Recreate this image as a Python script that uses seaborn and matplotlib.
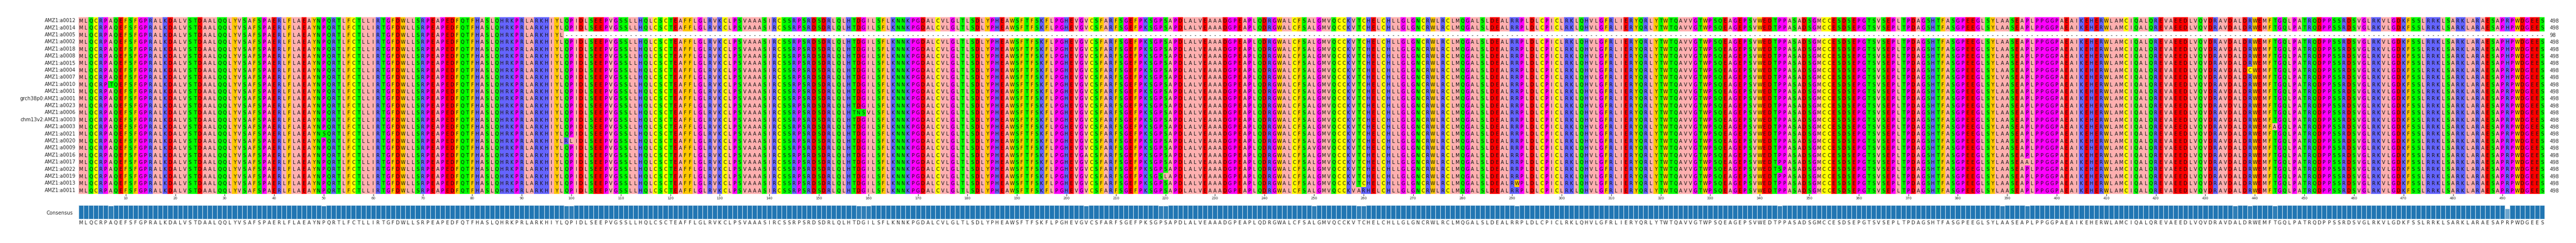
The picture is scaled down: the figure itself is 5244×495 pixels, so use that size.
import numpy as np
import pandas as pd
import matplotlib
matplotlib.use("Agg")
import matplotlib.pyplot as plt
import matplotlib.colors as mcolors
import seaborn as sns

names = ["AMZ1:a0012", "AMZ1:a0014", "AMZ1:a0005", "AMZ1:a0002", "AMZ1:a0018",
         "AMZ1:a0008", "AMZ1:a0015", "AMZ1:a0004", "AMZ1:a0007", "AMZ1:a0010",
         "AMZ1:a0001", "grch38p0:AMZ1:a0001", "AMZ1:a0023", "AMZ1:a0006",
         "chm13v2:AMZ1:a0003", "AMZ1:a0003", "AMZ1:a0021", "AMZ1:a0020",
         "AMZ1:a0009", "AMZ1:a0016", "AMZ1:a0017", "AMZ1:a0022", "AMZ1:a0019",
         "AMZ1:a0013", "AMZ1:a0011"]

consensus = ("MLQCRPAQEFSFGPRALKDALVSTDAALQQLYVSAFSPAERLFLAEAYNP"
             "QRTLFCTLLIRTGFDWLLSRPEAPEDFQTFHASLQHRKPRLARKHIYLQP"
             "IDLSEEPVGSSLLHQLCSCTEAFFLGLRVKCLPSVAAASIRCSSRPSRDS"
             "DRLQLHTDGILSFLKNNKPGDALCVLGLTLSDLYPHEAWSFTFSKFLPGH"
             "EVGVCSFARFSGEFPKSGPSAPDLALVEAAADGPEAPLQDRGWALCFSAL"
             "GMVQCCKVTCHELCHLLGLGNCRWLRCLMQGALSLDEALRRPLDLCPICL"
             "RKLQHVLGFRLIERYQRLYTWTQAVVGTWPSQEAGEPSVWEDTPPASADS"
             "GMCCESDSEPGTSVSEPLTPDAGSHTFASGPEEGLSYLAASEAPLPPGGP"
             "AEAIKEHERWLAMCIQALQREVAEEDLVQVDRAVDALDRWEMFTGQLPAT"
             "RQDPPSSRDSVGLRKVLGDKFSSLRRKLSARKLARAESAPRPWDGEES")

short_name = "AMZ1:a0005"
short_len = 98

# (position, sequence, residue)
variants = [(7, "AMZ1:a0010", "T"), (50, "AMZ1:a0021", "S"),
            (99, "AMZ1:a0020", "R"), (100, "AMZ1:a0020", "L"),
            (158, "AMZ1:a0006", "N"), (159, "AMZ1:a0006", "S"), (160, "AMZ1:a0006", "V"),
            (204, "AMZ1:a0016", "A"), (219, "AMZ1:a0019", "S"), (220, "AMZ1:a0019", "L"),
            (250, "AMZ1:a0009", "V"), (259, "AMZ1:a0011", "A"), (260, "AMZ1:a0011", "R"),
            (291, "AMZ1:a0013", "W"), (344, "AMZ1:a0022", "S"), (389, "AMZ1:a0007", "V"),
            (394, "AMZ1:a0017", "A"), (436, "AMZ1:a0023", "V"), (439, "AMZ1:a0004", "C"),
            (444, "AMZ1:a0003", "A")]
h_rows_491 = ["AMZ1:a0014", "AMZ1:a0002", "AMZ1:a0018", "AMZ1:a0008",
              "AMZ1:a0015", "AMZ1:a0007"]

# build sequences
seqs = {}
for n in names:
    s = list(consensus)
    if n == short_name:
        s = s[:short_len] + ["-"] * (len(consensus) - short_len)
    seqs[n] = s
for pos, n, r in variants:
    seqs[n][pos - 1] = r
for n in h_rows_491:
    seqs[n][490] = "H"

groups = {**{c: 0 for c in "ILVAM"}, **{c: 1 for c in "FWY"}, **{c: 2 for c in "KRH"},
          **{c: 3 for c in "DE"}, **{c: 4 for c in "STNQ"}, **{c: 5 for c in "PG"},
          "C": 6, "-": 7}
palette = ["#ffafaf", "#ffc800", "#6464ff", "#ff0000", "#00ff00", "#ff00ff", "#ffff00", "#ffffff"]

L = len(consensus)
mat = np.array([[groups[c] for c in seqs[n]] for n in names])
df = pd.DataFrame(mat, index=names, columns=range(1, L + 1))

# conservation
cons_vals = []
for j in range(L):
    col = [seqs[n][j] for n in names if seqs[n][j] != "-"]
    cons_vals.append(sum(1 for c in col if c == consensus[j]) / len(col))

W, H = 5244, 495
fig = plt.figure(figsize=(W / 100, H / 100), dpi=100)
ax = fig.add_axes([160 / W, 1 - 395 / H, 5020 / W, 360 / H])
sns.heatmap(df, ax=ax, cmap=mcolors.ListedColormap(palette), vmin=-0.5, vmax=7.5,
            cbar=False, linewidths=0, xticklabels=False, yticklabels=True)
for i, n in enumerate(names):
    for j, c in enumerate(seqs[n]):
        ax.text(j + 0.5, i + 0.55, c, ha="center", va="center", fontsize=7, color="#111111")
    ln = sum(1 for c in seqs[n] if c != "-")
    ax.text(L + 1.0, i + 0.55, str(ln), ha="left", va="center", fontsize=7.2, color="#262626")
ax.set_yticklabels(names, rotation=0, fontsize=7.2, color="#262626")
ax.tick_params(axis="y", length=0, pad=4)
ticks = list(range(10, L + 1, 10))
ax.set_xticks([t - 0.5 for t in ticks])
ax.set_xticklabels([str(t) for t in ticks], fontsize=5, color="#262626")
ax.tick_params(axis="x", length=3, width=0.6, pad=1, bottom=True)
ax.set_xlabel("")
ax.set_ylabel("")

# consensus bars
bx = fig.add_axes([160 / W, 1 - 446 / H, 5020 / W, 28 / H])
base = np.array(mcolors.to_rgb("#2176b3"))
cols = [tuple(base + (1 - base) * min(1, (1 - v) * 1.4)) for v in cons_vals]
bdf = pd.DataFrame({"pos": [str(p) for p in range(1, L + 1)], "val": cons_vals})
sns.barplot(data=bdf, x="pos", y="val", hue="pos", palette=cols, legend=False,
            width=1.0, ax=bx, edgecolor="#d6e6f2", linewidth=0.8, saturation=1)
bx.set_xlim(-0.5, L - 0.5)
bx.set_ylim(0, 1)
bx.axis("off")
for j, c in enumerate(consensus):
    bx.text(j, -0.28, c, ha="center", va="center", fontsize=7, color="#262626",
            transform=bx.get_xaxis_transform())
fig.text(148 / W, 1 - 434 / H, "Consensus", ha="right", va="center", fontsize=7.2, color="#262626")

fig.savefig("out.png", dpi=100)
